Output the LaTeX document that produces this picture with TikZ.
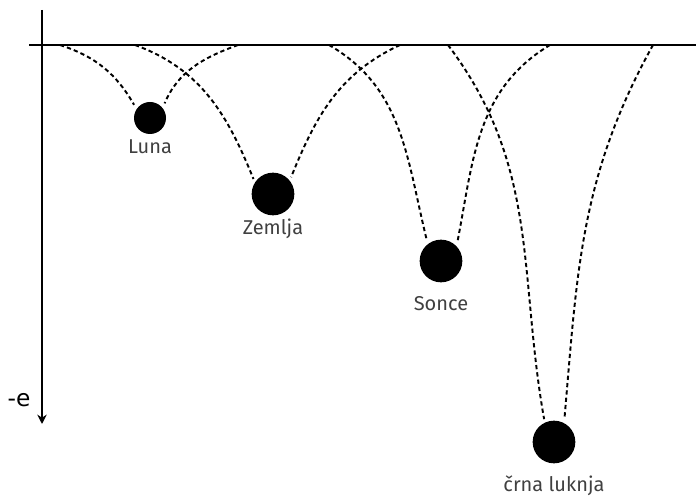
\documentclass[tikz,border=0pt]{standalone}
\usepackage{fontspec}
\setmainfont{Fira Sans}
\newfontfamily\axisfont{DejaVu Sans}
\usetikzlibrary{arrows.meta}

\begin{document}
\begin{tikzpicture}[x=0.75pt, y=0.75pt, >={Stealth[length=7pt,width=7pt]}, line width=1.5pt,
    body/.style={circle, fill=black, inner sep=0pt},
    well/.style={dash pattern=on 3.2pt off 2.3pt, line width=1.45pt},
    lbl/.style={anchor=base, text=black!75, font=\fontsize{15}{18}\selectfont}]

    \useasboundingbox (0,0) rectangle (696,-498);

    % Axes
    \coordinate (ytop) at (42,-10);
    \coordinate (ybot) at (42,-424);
    \coordinate (xleft) at (29,-45);
    \coordinate (xright) at (696,-45);
    \draw[->] (ytop) -- (ybot);
    \draw (xleft) -- (xright);
    \node[font=\axisfont\fontsize{17.5}{20}\selectfont] (elbl) at (19,-400) {-e};

    % Bodies
    \node[body, minimum size=24pt] (luna) at (150,-118) {};
    \node[body, minimum size=32pt] (zemlja) at (273,-194) {};
    \node[body, minimum size=32pt] (sonce) at (441,-261) {};
    \node[body, minimum size=32pt] (luknja) at (554,-442) {};

    % Labels under the bodies
    \node[lbl] (lluna) at (150,-154) {Luna};
    \node[lbl] (lzemlja) at (273,-235) {Zemlja};
    \node[lbl] (lsonce) at (441,-311) {Sonce};
    \node[lbl] (lluknja) at (554,-492) {črna luknja};

    % Where the wells leave the axis
    \coordinate (a1) at (60,-45);
    \coordinate (b1) at (238,-45);
    \coordinate (a2) at (135,-45);
    \coordinate (b2) at (400,-45);
    \coordinate (a3) at (329,-45);
    \coordinate (b3) at (550,-45);
    \coordinate (a4) at (448,-45);
    \coordinate (b4) at (653,-45);

    % Dashed wells
    \draw[well, shorten >=3pt] (a1) to[out=-18, in=120] (luna.145);
    \draw[well, shorten >=3pt] (b1) to[out=200, in=67] (luna.40);
    \draw[well, shorten >=2pt] (a2) to[out=-20, in=112] (zemlja.146);
    \draw[well, shorten >=2pt] (b2) to[out=205, in=68] (zemlja.40);
    \draw[well, shorten >=2pt] (a3) to[out=-30, in=104] (sonce.127);
    \draw[well, shorten >=2pt] (b3) to[out=211, in=79] (sonce.45);
    \draw[well, shorten >=2pt] (a4) to[out=-53, in=100] (luknja.115);
    \draw[well, shorten >=2pt] (b4) to[out=241, in=85] (luknja.63);

\end{tikzpicture}
\end{document}
